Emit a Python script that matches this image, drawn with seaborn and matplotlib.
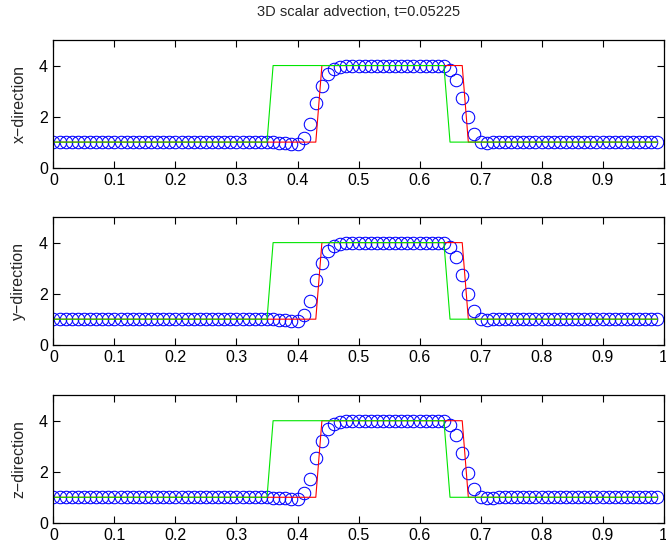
import numpy as np
import pandas as pd
import seaborn as sns
import matplotlib.pyplot as plt

# grid points (periodic, 100 cells)
x_grid = np.round(np.arange(100) * 0.01, 2)

# initial condition (green) and exact solution (red), as breakpoints
green_x = [0.0, 0.35, 0.36, 0.64, 0.65, 0.99]
green_y = [1, 1, 4, 4, 1, 1]
red_x = [0.0, 0.43, 0.44, 0.67, 0.68, 0.99]
red_y = [1, 1, 4, 4, 1, 1]

# numerical solution (blue circles)
num_left = [1.0] * 36                                   # x = 0.00 .. 0.35
num_rise = [0.99, 0.98, 0.96, 0.94, 0.92,               # x = 0.36 .. 0.40
            1.17, 1.72, 2.52, 3.21, 3.66, 3.88, 3.95, 3.98]  # x = 0.41 .. 0.48
num_top = [3.99] * 15                                   # x = 0.49 .. 0.63
num_fall = [3.97, 3.84, 3.44, 2.74, 1.97, 1.32,         # x = 0.64 .. 0.69
            1.02, 0.98, 0.99]                           # x = 0.70 .. 0.72
num_right = [1.0] * 27                                  # x = 0.73 .. 0.99
num_y = num_left + num_rise + num_top + num_fall + num_right

panel_labels = ["x\u2212direction", "y\u2212direction", "z\u2212direction"]
title = "3D scalar advection, t=0.05225"

sns.set_style("ticks")
plt.rcParams['font.family'] = ['Liberation Sans', 'DejaVu Sans']

fig = plt.figure(figsize=(6.66, 5.43), dpi=100)
bottoms = [0.6913, 0.3652, 0.0372]

df_num = pd.DataFrame({"x": x_grid, "u": num_y})
df_green = pd.DataFrame({"x": green_x, "u": green_y})
df_red = pd.DataFrame({"x": red_x, "u": red_y})

for i, lab in enumerate(panel_labels):
    ax = fig.add_axes([0.0803, bottoms[i], 0.916, 0.235])
    sns.lineplot(data=df_num, x="x", y="u", ax=ax, marker="o", linestyle="none",
                 markerfacecolor="none", markeredgecolor="blue", markersize=9,
                 markeredgewidth=0.75)
    sns.lineplot(data=df_red, x="x", y="u", ax=ax, color="red", linewidth=0.8)
    sns.lineplot(data=df_green, x="x", y="u", ax=ax, color="#00e600", linewidth=0.8)
    ax.set_xlim(0, 1)
    ax.set_ylim(0, 5)
    ax.set_xticks(np.round(np.arange(0, 1.01, 0.1), 1))
    ax.set_xticklabels(["0", "0.1", "0.2", "0.3", "0.4", "0.5", "0.6", "0.7", "0.8", "0.9", "1"])
    ax.set_yticks([0, 2, 4])
    ax.set_yticklabels(["0", "2", "4"])
    ax.tick_params(direction="in", top=True, right=True, length=5, width=0.8,
                   labelsize=11.5, pad=4, colors="black")
    ax.set_xlabel("")
    ax.set_ylabel(lab, fontsize=11.5, labelpad=9)
    for s in ax.spines.values():
        s.set_visible(True)
        s.set_linewidth(0.9)
        s.set_color("black")
    if i == 0:
        ax.set_title(title, fontsize=10.5, pad=17)

fig.savefig("out.png", dpi=100)
